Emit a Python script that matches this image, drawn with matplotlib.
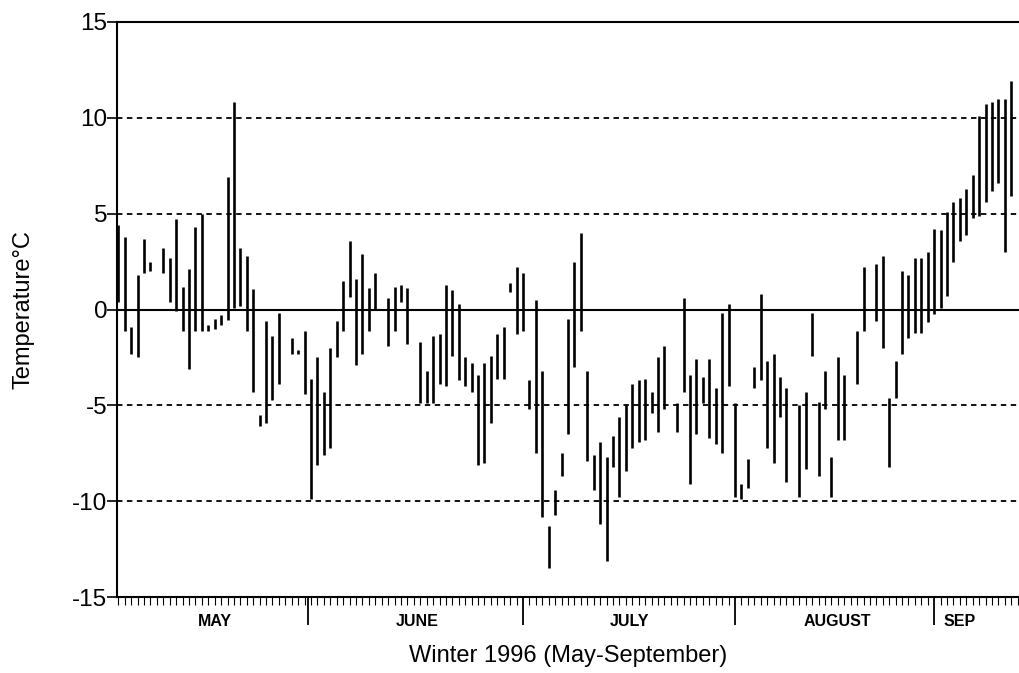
import matplotlib
matplotlib.use('Agg')
import matplotlib.pyplot as plt
from matplotlib.ticker import MultipleLocator

plt.rcParams['font.family'] = ['Liberation Sans', 'DejaVu Sans']
plt.rcParams['axes.unicode_minus'] = False

# daily temperature range, day 0 = 1 May 1996
days = [0, 1, 2, 3, 4, 5, 7, 8, 9, 10, 11, 12, 13, 14, 15, 16, 17, 18, 19, 20,
        21, 22, 23, 24, 25, 27, 28, 29, 30, 31, 32, 33, 34, 35, 36, 37, 38, 39, 40, 42,
        43, 44, 45, 47, 48, 49, 50, 51, 52, 53, 54, 55, 56, 57, 58, 59, 60, 61, 62, 63,
        64, 65, 66, 67, 68, 69, 70, 71, 72, 73, 74, 75, 76, 77, 78, 79, 80, 81, 82, 83,
        84, 85, 87, 88, 89, 90, 91, 92, 93, 94, 95, 96, 97, 98, 99, 100, 101, 102, 103, 104,
        106, 107, 108, 109, 110, 111, 112, 113, 115, 116, 118, 119, 120, 121, 122, 123, 124, 125, 126, 127,
        128, 129, 130, 131, 132, 133, 134, 135, 136, 137, 138, 139]
t_min = [0.4, -1.1, -2.3, -2.5, 1.9, 2.0, 1.9, 0.4, -0.1, -1.1, -3.1, -1.1, -1.1, -1.1, -1.0, -0.8, -0.55, 0.1, 0.2, -1.1,
         -4.3, -6.1, -5.9, -4.7, -3.9, -2.3, -2.3, -4.4, -9.9, -8.1, -7.6, -7.2, -2.5, -1.1, 0.65, -2.9, -2.3, -1.1, 0.05, -1.9,
         -1.1, 0.4, -1.8, -4.9, -4.9, -4.9, -3.9, -4.0, -2.4, -3.7, -4.0, -4.3, -8.1, -8.0, -5.9, -3.6, -3.6, 0.9, -1.3, -1.1,
         -5.2, -7.5, -10.8, -13.5, -10.7, -8.7, -6.5, -3.0, -1.1, -7.9, -9.4, -11.2, -13.1, -8.2, -9.8, -8.4, -7.2, -6.9, -6.8, -5.4,
         -6.4, -5.2, -6.4, -4.3, -9.1, -6.5, -4.9, -6.7, -7.0, -7.5, -4.0, -9.8, -9.9, -9.3, -4.1, -3.7, -7.2, -8.0, -5.6, -9.0,
         -9.8, -8.3, -2.4, -8.7, -5.2, -9.8, -6.8, -6.8, -3.9, -1.1, -0.6, -2.0, -8.2, -4.6, -2.3, -1.5, -1.2, -1.2, -0.65, -0.25,
         0.1, 0.7, 2.5, 3.6, 3.9, 4.8, 4.9, 5.6, 6.2, 6.6, 3.0, 5.9]
t_max = [4.4, 3.8, -0.9, 1.8, 3.7, 2.5, 3.2, 2.7, 4.7, 1.2, 2.1, 4.3, 5.0, -0.8, -0.5, -0.3, 6.9, 10.8, 3.2, 2.8,
         1.05, -5.5, -0.6, -1.4, -0.2, -1.5, -2.1, -1.1, -3.6, -2.5, -4.3, -2.0, -0.6, 1.5, 3.6, 1.6, 2.9, 1.1, 1.9, 0.6,
         1.2, 1.3, 1.1, -1.7, -3.2, -1.4, -1.3, 1.3, 1.0, 0.3, -2.5, -2.8, -3.4, -2.8, -2.4, -1.3, -0.9, 1.4, 2.2, 1.9,
         -3.7, 0.5, -3.2, -11.3, -9.4, -7.5, -0.5, 2.5, 4.0, -3.2, -7.6, -6.9, -7.7, -6.6, -5.6, -5.0, -3.9, -3.7, -3.6, -4.3,
         -2.5, -1.9, -4.9, 0.6, -3.4, -2.6, -3.5, -2.6, -4.1, -0.2, 0.3, -4.9, -9.1, -7.8, -3.0, 0.8, -2.7, -2.3, -3.5, -4.1,
         -5.0, -4.3, -0.2, -4.8, -3.2, -7.7, -2.5, -3.4, -1.1, 2.2, 2.4, 2.8, -4.6, -2.7, 2.0, 1.8, 2.7, 2.7, 3.0, 4.2,
         4.15, 5.1, 5.6, 5.8, 6.3, 7.0, 10.1, 10.7, 10.8, 11.0, 11.0, 11.9]

month_edges = [29.5, 63, 96, 127]
month_names = ['MAY', 'JUNE', 'JULY', 'AUGUST', 'SEP']
month_label_pos = [15, 46.5, 79.5, 112, 131]
y_ticks = [-15, -10, -5, 0, 5, 10, 15]

fig = plt.figure(figsize=(10.19, 6.73), dpi=100)
ax = fig.add_axes([117 / 1019, 1 - 597 / 673, 902 / 1019, 575 / 673])

for y in [10, 5, -5, -10]:
    ax.axhline(y, color='black', lw=1.3, ls=(0, (3, 2.5)), zorder=1)
ax.axhline(0, color='black', lw=1.5, zorder=1)

ax.vlines(days, t_min, t_max, color='black', lw=1.9, zorder=2)

ax.set_xlim(-0.2, 140.2)
ax.set_ylim(-15, 15)

for s in ['left', 'bottom', 'top']:
    ax.spines[s].set_linewidth(1.5)
ax.spines['right'].set_visible(False)

ax.set_yticks(y_ticks)
ax.tick_params(axis='y', direction='out', length=7, width=1.2, labelsize=17.5, pad=0)
ax.set_xticks(month_edges)
ax.set_xticklabels([])
ax.xaxis.set_minor_locator(MultipleLocator(1))
ax.tick_params(axis='x', which='major', direction='out', length=20, width=1.3)
ax.tick_params(axis='x', which='minor', direction='out', length=6, width=0.8)

for pos, name in zip(month_label_pos, month_names):
    ax.text(pos, -0.042, name, transform=ax.get_xaxis_transform(), ha='center', va='center',
            fontsize=11.5, fontweight='bold', family=['Liberation Sans Narrow', 'Liberation Sans'])

ax.set_xlabel('Winter 1996 (May-September)', fontsize=17)
ax.xaxis.set_label_coords(0.5, -0.083)
ax.set_ylabel('Temperature°C', fontsize=17)
ax.yaxis.set_label_coords(-0.092, 0.5)

fig.savefig('out.png', dpi=100)
